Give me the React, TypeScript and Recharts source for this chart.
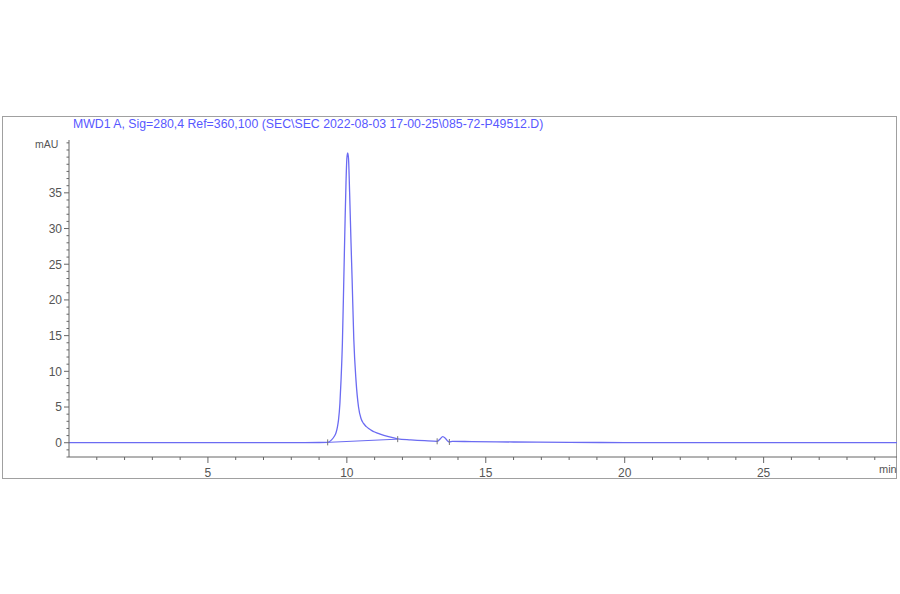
import React from 'react';
import { ComposedChart, Line, XAxis, YAxis, Scatter } from 'recharts';

const times = [0, 2, 4, 6, 8, 9.0, 9.31, 9.45, 9.55, 9.61, 9.66, 9.70, 9.75, 9.79, 9.84, 9.89, 9.93, 9.97, 10.0, 10.03, 10.06, 10.10, 10.15, 10.19, 10.25, 10.33, 10.42, 10.51, 10.6, 10.7, 10.8, 10.9, 11.0, 11.2, 11.5, 11.83, 12.3, 12.8, 13.25, 13.35, 13.45, 13.55, 13.64, 13.69, 13.8, 14.5, 16, 18, 20, 24, 28, 29.8];
const signal = [0, 0, 0, 0, 0.02, 0.03, 0.05, 0.4, 0.9, 1.4, 2.2, 3.2, 5.5, 8.7, 14, 22.8, 30, 36.5, 39.8, 40.6, 39.8, 35, 28, 22.8, 14.5, 8.7, 5.0, 3.4, 2.7, 2.25, 1.95, 1.7, 1.5, 1.2, 0.85, 0.55, 0.4, 0.28, 0.2, 0.5, 0.84, 0.6, 0.2, 0.1, 0.2, 0.15, 0.1, 0.05, 0.02, 0.0, 0.0, 0.0];
const baseTimes = [9.31, 11.83];
const baseValues = [0.05, 0.5];
const markTimes = [9.31, 11.83, 13.25, 13.69];
const markValues = [0.05, 0.5, 0.2, 0.1];
const xMajor = [5, 10, 15, 20, 25];
const yMajor = [0, 5, 10, 15, 20, 25, 30, 35];
const title = 'MWD1 A, Sig=280,4 Ref=360,100 (SEC\\SEC 2022-08-03 17-00-25\\085-72-P49512.D)';

const data = times.map((t, i) => ({ t, v: signal[i] }));
const baseData = baseTimes.map((t, i) => ({ t, b: baseValues[i] }));
const markData = markTimes.map((t, i) => ({ t, m: markValues[i] }));
const xTicks = Array.from({ length: 30 }, (_, i) => i);
const yTicks = Array.from({ length: 45 }, (_, i) => i - 2);

const AXIS = '#666';
const TXT = '#555';
const LINE = '#6b6bf2';
const FONT = 'Liberation Sans, Arial, sans-serif';

const YTick = (props: any) => {
  const { x, y, payload } = props;
  const v = payload.value;
  const major = yMajor.includes(v);
  return (
    <g>
      <line x1={x - (major ? 5 : 2.5)} x2={x} y1={y} y2={y} stroke={AXIS} strokeWidth={1} />
      {major && (
        <text x={x - 7} y={y} dy={4.3} textAnchor="end" fontSize={12} fill={TXT} fontFamily={FONT}>{v}</text>
      )}
    </g>
  );
};

const XTick = (props: any) => {
  const { x, y, payload } = props;
  const v = payload.value;
  const major = xMajor.includes(v);
  if (v === 0) return <g />;
  return (
    <g>
      <line x1={x} x2={x} y1={y} y2={y + (major ? 6 : 3)} stroke={AXIS} strokeWidth={1} />
      {major && (
        <text x={x} y={y + 19.5} textAnchor="middle" fontSize={12} fill={TXT} fontFamily={FONT}>{v}</text>
      )}
    </g>
  );
};

const Mark = (props: any) => {
  const { cx, cy } = props;
  return <line x1={cx} x2={cx} y1={cy - 3} y2={cy + 3} stroke="#777" strokeWidth={1} />;
};

export default function App() {
  return (
    <div style={{ position: 'absolute', left: 0, top: 0, width: 900, height: 594, background: '#fff' }}>
      <div style={{ position: 'absolute', left: 2, top: 116, width: 893, height: 361, border: '1.5px solid #a0a0a0' }} />
      <div style={{ position: 'absolute', left: 73, top: 116.5, fontSize: 12.3, color: '#5858ff', fontFamily: FONT, whiteSpace: 'nowrap' }}>{title}</div>
      <div style={{ position: 'absolute', left: 35, top: 138, fontSize: 10.5, color: TXT, fontFamily: FONT }}>mAU</div>
      <div style={{ position: 'absolute', left: 879, top: 463, fontSize: 11, color: TXT, fontFamily: FONT }}>min</div>
      <div style={{ position: 'absolute', left: 0, top: 0 }}>
        <ComposedChart width={900} height={594} margin={{ top: 140, right: 3, bottom: 107, left: 9 }}>
          <XAxis
            dataKey="t"
            type="number"
            domain={[0, 29.8]}
            ticks={xTicks}
            interval={0}
            tick={<XTick />}
            tickLine={false}
            tickSize={0}
            tickMargin={0}
            axisLine={{ stroke: AXIS }}
            height={30}
            allowDataOverflow
          />
          <YAxis
            type="number"
            domain={[-2, 42.4]}
            ticks={yTicks}
            interval={0}
            tick={<YTick />}
            tickLine={false}
            tickSize={0}
            tickMargin={0}
            axisLine={{ stroke: AXIS }}
            width={60}
            allowDataOverflow
          />
          <Line data={baseData} dataKey="b" type="linear" stroke={LINE} strokeWidth={1} dot={false} isAnimationActive={false} />
          <Line data={data} dataKey="v" type="monotone" stroke={LINE} strokeWidth={1.3} dot={false} isAnimationActive={false} />
          <Scatter data={markData} dataKey="m" shape={<Mark />} isAnimationActive={false} />
        </ComposedChart>
      </div>
    </div>
  );
}
